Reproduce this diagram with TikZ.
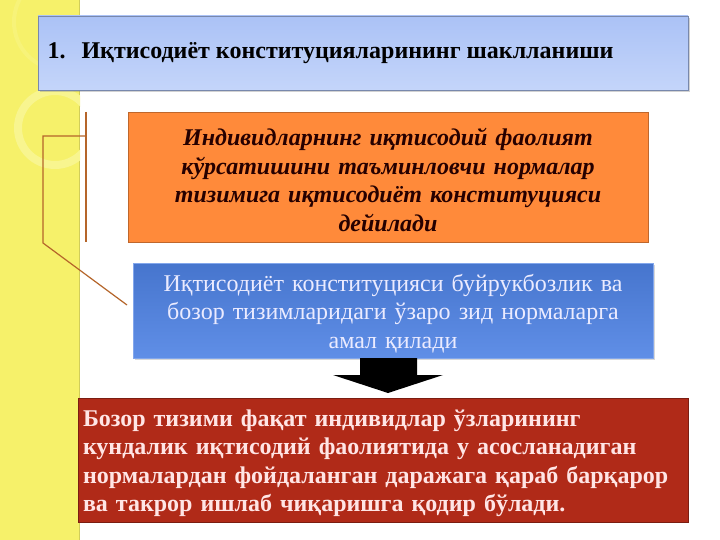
\documentclass[tikz,border=0pt]{standalone}
\usepackage{fontspec}
\setmainfont{Liberation Serif}
\usetikzlibrary{shadows}
\definecolor{stripe}{HTML}{F6F16A}
\definecolor{titletop}{HTML}{ABC2F6}
\definecolor{titlebot}{HTML}{C4D5FA}
\definecolor{boxorange}{HTML}{FF8A3A}
\definecolor{boxblue}{HTML}{4E82E4}
\definecolor{boxred}{HTML}{B02A18}
\definecolor{bracket}{HTML}{B5652A}
\newcommand{\toppad}{\rule{0pt}{23pt}}
\begin{document}
\begin{tikzpicture}[x=1pt,y=-1pt,
  slidebox/.style={draw, line width=0.8pt, inner sep=0pt, align=center},
  bigtext/.style={font=\fontsize{24}{28.5}\selectfont}]
\useasboundingbox (0,0) rectangle (720,540);
% left stripe
\fill[white] (0,0) rectangle (720,540);
\fill[stripe] (0,0) rectangle (80,540);
\draw[stripe!85!black, line width=1pt] (79.5,0) -- (79.5,540);
\begin{scope}
\clip (0,0) rectangle (80,540);
\draw[stripe!75!white, line width=8pt] (55,128) circle (37);
\draw[stripe!90!white, line width=4pt] (62,22) circle (48);
\end{scope}
% title
\node[slidebox, draw=titletop!70!black, top color=titletop, bottom color=titlebot,
  drop shadow={shadow xshift=2pt, shadow yshift=-2pt, opacity=0.35},
  minimum width=650pt, minimum height=74pt] (title) at (363,53) {};
\node[anchor=west, font=\fontsize{24}{28}\selectfont\bfseries] (titletext) at (44,53)
  {1.\hspace{16pt}Иқтисодиёт конституцияларининг шаклланиши};
% definition box
\node[slidebox, bigtext, draw=boxorange!75!black, fill=boxorange, text=black!85!red,
  minimum width=520pt, minimum height=130pt, text width=510pt] (define) at (388,177)
  {\toppad\bfseries\itshape Индивидларнинг иқтисодий фаолият\\ кўрсатишини таъминловчи нормалар\\
   тизимига иқтисодиёт конституцияси\\ дейилади};
% blue box
\node[slidebox, bigtext, draw=boxblue!70!white, top color=boxblue!90!black, bottom color=boxblue!90!white,
  drop shadow={shadow xshift=1.5pt, shadow yshift=-1.5pt, opacity=0.3}, text=white!92!blue,
  minimum width=520pt, minimum height=95pt, text width=510pt] (market) at (393,310.5)
  {\toppad Иқтисодиёт конституцияси буйрукбозлик ва\\ бозор тизимларидаги ўзаро зид нормаларга\\ амал қилади};
% red box
\node[slidebox, bigtext, draw=boxred!70!black, fill=boxred, text=white!90!red, align=left,
  minimum width=610pt, minimum height=124pt, text width=600pt] (result) at (383,460)
  {\toppad\bfseries Бозор тизими фақат индивидлар ўзларининг\\ кундалик иқтисодий фаолиятида у асосланадиган\\
   нормалардан фойдаланган даражага қараб барқарор\\ ва такрор ишлаб чиқаришга қодир бўлади.};
% bracket lines
\coordinate (btop) at (86,112);
\coordinate (bbot) at (86,242);
\coordinate (bmid) at (86,136);
\coordinate (bcorner) at (43,136);
\coordinate (bknee) at (43,243);
\coordinate (bend) at (127,305);
\draw[bracket, line width=1.2pt] (btop) -- (bbot);
\draw[bracket, line width=1.2pt] (bmid) -- (bcorner) -- (bknee) -- (bend);
% block arrow
\fill[black] (360,358) -- (417,358) -- (417,375) -- (443,375) -- (388,393)
  -- (333,375) -- (360,375) -- cycle;
\end{tikzpicture}
\end{document}
